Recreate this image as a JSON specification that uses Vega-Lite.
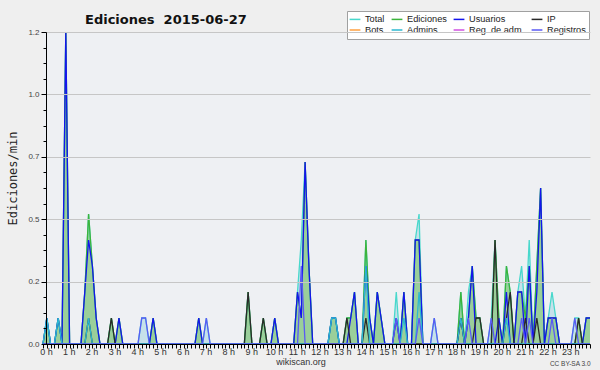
{
"$schema": "https://vega.github.io/schema/vega-lite/v6.json",
"width": 547, "height": 312, "autosize": "none",
"padding": {"left": 43, "top": 32, "right": 10, "bottom": 26},
"background": "#efefef",
"config": {"view": {"fill": "#eef0f3", "stroke": null}},
"title": {"text": "Ediciones\u00a0 2015-06-27", "anchor": "start", "frame": "group", "dx": 42, "dy": 16, "offset": -10, "baseline": "alphabetic", "font": "DejaVu Sans", "fontSize": 13, "fontWeight": "bold", "color": "#111"},
"data": {"values": [
{"min":0,"Total":0,"Ediciones":0,"Usuarios":0,"IP":0,"Admins":0,"Registros":0},
{"min":10,"Total":0.1,"Ediciones":0.1,"Usuarios":0.1,"IP":0,"Admins":0.1,"Registros":0},
{"min":20,"Total":0,"Ediciones":0,"Usuarios":0,"IP":0,"Admins":0,"Registros":0},
{"min":30,"Total":0,"Ediciones":0,"Usuarios":0,"IP":0,"Admins":0,"Registros":0},
{"min":40,"Total":0.1,"Ediciones":0.1,"Usuarios":0.1,"IP":0,"Admins":0.1,"Registros":0},
{"min":50,"Total":0,"Ediciones":0,"Usuarios":0,"IP":0,"Admins":0,"Registros":0},
{"min":60,"Total":1.2,"Ediciones":1.2,"Usuarios":1.2,"IP":0,"Admins":0,"Registros":0},
{"min":70,"Total":0,"Ediciones":0,"Usuarios":0,"IP":0,"Admins":0,"Registros":0},
{"min":80,"Total":0,"Ediciones":0,"Usuarios":0,"IP":0,"Admins":0,"Registros":0},
{"min":90,"Total":0,"Ediciones":0,"Usuarios":0,"IP":0,"Admins":0,"Registros":0},
{"min":100,"Total":0,"Ediciones":0,"Usuarios":0,"IP":0,"Admins":0,"Registros":0},
{"min":110,"Total":0.2,"Ediciones":0.2,"Usuarios":0.2,"IP":0,"Admins":0,"Registros":0},
{"min":120,"Total":0.5,"Ediciones":0.5,"Usuarios":0.4,"IP":0.1,"Admins":0.1,"Registros":0},
{"min":130,"Total":0.3,"Ediciones":0.3,"Usuarios":0.3,"IP":0,"Admins":0,"Registros":0},
{"min":140,"Total":0.1,"Ediciones":0.1,"Usuarios":0.1,"IP":0,"Admins":0,"Registros":0},
{"min":150,"Total":0,"Ediciones":0,"Usuarios":0,"IP":0,"Admins":0,"Registros":0},
{"min":160,"Total":0,"Ediciones":0,"Usuarios":0,"IP":0,"Admins":0,"Registros":0},
{"min":170,"Total":0,"Ediciones":0,"Usuarios":0,"IP":0,"Admins":0,"Registros":0},
{"min":180,"Total":0.1,"Ediciones":0.1,"Usuarios":0,"IP":0.1,"Admins":0,"Registros":0},
{"min":190,"Total":0,"Ediciones":0,"Usuarios":0,"IP":0,"Admins":0,"Registros":0},
{"min":200,"Total":0.1,"Ediciones":0.1,"Usuarios":0.1,"IP":0,"Admins":0,"Registros":0},
{"min":210,"Total":0,"Ediciones":0,"Usuarios":0,"IP":0,"Admins":0,"Registros":0},
{"min":220,"Total":0,"Ediciones":0,"Usuarios":0,"IP":0,"Admins":0,"Registros":0},
{"min":230,"Total":0,"Ediciones":0,"Usuarios":0,"IP":0,"Admins":0,"Registros":0},
{"min":240,"Total":0,"Ediciones":0,"Usuarios":0,"IP":0,"Admins":0,"Registros":0},
{"min":250,"Total":0,"Ediciones":0,"Usuarios":0,"IP":0,"Admins":0,"Registros":0},
{"min":260,"Total":0.1,"Ediciones":0,"Usuarios":0,"IP":0,"Admins":0,"Registros":0.1},
{"min":270,"Total":0.1,"Ediciones":0,"Usuarios":0,"IP":0,"Admins":0,"Registros":0.1},
{"min":280,"Total":0,"Ediciones":0,"Usuarios":0,"IP":0,"Admins":0,"Registros":0},
{"min":290,"Total":0.1,"Ediciones":0.1,"Usuarios":0.1,"IP":0,"Admins":0,"Registros":0},
{"min":300,"Total":0,"Ediciones":0,"Usuarios":0,"IP":0,"Admins":0,"Registros":0},
{"min":310,"Total":0,"Ediciones":0,"Usuarios":0,"IP":0,"Admins":0,"Registros":0},
{"min":320,"Total":0,"Ediciones":0,"Usuarios":0,"IP":0,"Admins":0,"Registros":0},
{"min":330,"Total":0,"Ediciones":0,"Usuarios":0,"IP":0,"Admins":0,"Registros":0},
{"min":340,"Total":0,"Ediciones":0,"Usuarios":0,"IP":0,"Admins":0,"Registros":0},
{"min":350,"Total":0,"Ediciones":0,"Usuarios":0,"IP":0,"Admins":0,"Registros":0},
{"min":360,"Total":0,"Ediciones":0,"Usuarios":0,"IP":0,"Admins":0,"Registros":0},
{"min":370,"Total":0,"Ediciones":0,"Usuarios":0,"IP":0,"Admins":0,"Registros":0},
{"min":380,"Total":0,"Ediciones":0,"Usuarios":0,"IP":0,"Admins":0,"Registros":0},
{"min":390,"Total":0,"Ediciones":0,"Usuarios":0,"IP":0,"Admins":0,"Registros":0},
{"min":400,"Total":0,"Ediciones":0,"Usuarios":0,"IP":0,"Admins":0,"Registros":0},
{"min":410,"Total":0.1,"Ediciones":0.1,"Usuarios":0.1,"IP":0,"Admins":0,"Registros":0},
{"min":420,"Total":0,"Ediciones":0,"Usuarios":0,"IP":0,"Admins":0,"Registros":0},
{"min":430,"Total":0.1,"Ediciones":0,"Usuarios":0,"IP":0,"Admins":0,"Registros":0.1},
{"min":440,"Total":0,"Ediciones":0,"Usuarios":0,"IP":0,"Admins":0,"Registros":0},
{"min":450,"Total":0,"Ediciones":0,"Usuarios":0,"IP":0,"Admins":0,"Registros":0},
{"min":460,"Total":0,"Ediciones":0,"Usuarios":0,"IP":0,"Admins":0,"Registros":0},
{"min":470,"Total":0,"Ediciones":0,"Usuarios":0,"IP":0,"Admins":0,"Registros":0},
{"min":480,"Total":0,"Ediciones":0,"Usuarios":0,"IP":0,"Admins":0,"Registros":0},
{"min":490,"Total":0,"Ediciones":0,"Usuarios":0,"IP":0,"Admins":0,"Registros":0},
{"min":500,"Total":0,"Ediciones":0,"Usuarios":0,"IP":0,"Admins":0,"Registros":0},
{"min":510,"Total":0,"Ediciones":0,"Usuarios":0,"IP":0,"Admins":0,"Registros":0},
{"min":520,"Total":0,"Ediciones":0,"Usuarios":0,"IP":0,"Admins":0,"Registros":0},
{"min":530,"Total":0,"Ediciones":0,"Usuarios":0,"IP":0,"Admins":0,"Registros":0},
{"min":540,"Total":0.2,"Ediciones":0.2,"Usuarios":0,"IP":0.2,"Admins":0,"Registros":0},
{"min":550,"Total":0,"Ediciones":0,"Usuarios":0,"IP":0,"Admins":0,"Registros":0},
{"min":560,"Total":0,"Ediciones":0,"Usuarios":0,"IP":0,"Admins":0,"Registros":0},
{"min":570,"Total":0,"Ediciones":0,"Usuarios":0,"IP":0,"Admins":0,"Registros":0},
{"min":580,"Total":0.1,"Ediciones":0.1,"Usuarios":0,"IP":0.1,"Admins":0,"Registros":0},
{"min":590,"Total":0,"Ediciones":0,"Usuarios":0,"IP":0,"Admins":0,"Registros":0},
{"min":600,"Total":0,"Ediciones":0,"Usuarios":0,"IP":0,"Admins":0,"Registros":0},
{"min":610,"Total":0.1,"Ediciones":0.1,"Usuarios":0.1,"IP":0,"Admins":0,"Registros":0},
{"min":620,"Total":0,"Ediciones":0,"Usuarios":0,"IP":0,"Admins":0,"Registros":0},
{"min":630,"Total":0,"Ediciones":0,"Usuarios":0,"IP":0,"Admins":0,"Registros":0},
{"min":640,"Total":0,"Ediciones":0,"Usuarios":0,"IP":0,"Admins":0,"Registros":0},
{"min":650,"Total":0,"Ediciones":0,"Usuarios":0,"IP":0,"Admins":0,"Registros":0},
{"min":660,"Total":0,"Ediciones":0,"Usuarios":0,"IP":0,"Admins":0,"Registros":0},
{"min":670,"Total":0.2,"Ediciones":0.2,"Usuarios":0.2,"IP":0,"Admins":0,"Registros":0},
{"min":680,"Total":0.4,"Ediciones":0.1,"Usuarios":0.1,"IP":0,"Admins":0,"Registros":0.3},
{"min":690,"Total":0.7,"Ediciones":0.7,"Usuarios":0.7,"IP":0,"Admins":0,"Registros":0},
{"min":700,"Total":0.3,"Ediciones":0.3,"Usuarios":0.3,"IP":0,"Admins":0,"Registros":0},
{"min":710,"Total":0,"Ediciones":0,"Usuarios":0,"IP":0,"Admins":0,"Registros":0},
{"min":720,"Total":0,"Ediciones":0,"Usuarios":0,"IP":0,"Admins":0,"Registros":0},
{"min":730,"Total":0,"Ediciones":0,"Usuarios":0,"IP":0,"Admins":0,"Registros":0},
{"min":740,"Total":0,"Ediciones":0,"Usuarios":0,"IP":0,"Admins":0,"Registros":0},
{"min":750,"Total":0,"Ediciones":0,"Usuarios":0,"IP":0,"Admins":0,"Registros":0},
{"min":760,"Total":0.1,"Ediciones":0.1,"Usuarios":0.1,"IP":0,"Admins":0.1,"Registros":0},
{"min":770,"Total":0.1,"Ediciones":0.1,"Usuarios":0.1,"IP":0,"Admins":0.1,"Registros":0},
{"min":780,"Total":0,"Ediciones":0,"Usuarios":0,"IP":0,"Admins":0,"Registros":0},
{"min":790,"Total":0,"Ediciones":0,"Usuarios":0,"IP":0,"Admins":0,"Registros":0},
{"min":800,"Total":0.1,"Ediciones":0.1,"Usuarios":0,"IP":0.1,"Admins":0,"Registros":0},
{"min":810,"Total":0.1,"Ediciones":0.1,"Usuarios":0.1,"IP":0,"Admins":0,"Registros":0},
{"min":820,"Total":0.2,"Ediciones":0.2,"Usuarios":0.2,"IP":0,"Admins":0,"Registros":0},
{"min":830,"Total":0,"Ediciones":0,"Usuarios":0,"IP":0,"Admins":0,"Registros":0},
{"min":840,"Total":0,"Ediciones":0,"Usuarios":0,"IP":0,"Admins":0,"Registros":0},
{"min":850,"Total":0.4,"Ediciones":0.4,"Usuarios":0.3,"IP":0.1,"Admins":0.3,"Registros":0},
{"min":860,"Total":0.1,"Ediciones":0.1,"Usuarios":0.1,"IP":0,"Admins":0,"Registros":0},
{"min":870,"Total":0,"Ediciones":0,"Usuarios":0,"IP":0,"Admins":0,"Registros":0},
{"min":880,"Total":0.2,"Ediciones":0.2,"Usuarios":0.2,"IP":0,"Admins":0,"Registros":0},
{"min":890,"Total":0.1,"Ediciones":0.1,"Usuarios":0.1,"IP":0,"Admins":0,"Registros":0},
{"min":900,"Total":0,"Ediciones":0,"Usuarios":0,"IP":0,"Admins":0,"Registros":0},
{"min":910,"Total":0,"Ediciones":0,"Usuarios":0,"IP":0,"Admins":0,"Registros":0},
{"min":920,"Total":0,"Ediciones":0,"Usuarios":0,"IP":0,"Admins":0,"Registros":0},
{"min":930,"Total":0.2,"Ediciones":0.1,"Usuarios":0.1,"IP":0,"Admins":0,"Registros":0.1},
{"min":940,"Total":0,"Ediciones":0,"Usuarios":0,"IP":0,"Admins":0,"Registros":0},
{"min":950,"Total":0.2,"Ediciones":0.2,"Usuarios":0.2,"IP":0,"Admins":0.1,"Registros":0},
{"min":960,"Total":0,"Ediciones":0,"Usuarios":0,"IP":0,"Admins":0,"Registros":0},
{"min":970,"Total":0,"Ediciones":0,"Usuarios":0,"IP":0,"Admins":0,"Registros":0},
{"min":980,"Total":0.4,"Ediciones":0.4,"Usuarios":0.4,"IP":0,"Admins":0,"Registros":0},
{"min":990,"Total":0.5,"Ediciones":0.4,"Usuarios":0.4,"IP":0,"Admins":0.2,"Registros":0.1},
{"min":1000,"Total":0,"Ediciones":0,"Usuarios":0,"IP":0,"Admins":0,"Registros":0},
{"min":1010,"Total":0,"Ediciones":0,"Usuarios":0,"IP":0,"Admins":0,"Registros":0},
{"min":1020,"Total":0,"Ediciones":0,"Usuarios":0,"IP":0,"Admins":0,"Registros":0},
{"min":1030,"Total":0.1,"Ediciones":0,"Usuarios":0,"IP":0,"Admins":0,"Registros":0.1},
{"min":1040,"Total":0,"Ediciones":0,"Usuarios":0,"IP":0,"Admins":0,"Registros":0},
{"min":1050,"Total":0,"Ediciones":0,"Usuarios":0,"IP":0,"Admins":0,"Registros":0},
{"min":1060,"Total":0,"Ediciones":0,"Usuarios":0,"IP":0,"Admins":0,"Registros":0},
{"min":1070,"Total":0,"Ediciones":0,"Usuarios":0,"IP":0,"Admins":0,"Registros":0},
{"min":1080,"Total":0,"Ediciones":0,"Usuarios":0,"IP":0,"Admins":0,"Registros":0},
{"min":1090,"Total":0,"Ediciones":0,"Usuarios":0,"IP":0,"Admins":0,"Registros":0},
{"min":1100,"Total":0.2,"Ediciones":0.2,"Usuarios":0.1,"IP":0.1,"Admins":0.1,"Registros":0},
{"min":1110,"Total":0,"Ediciones":0,"Usuarios":0,"IP":0,"Admins":0,"Registros":0},
{"min":1120,"Total":0.2,"Ediciones":0.1,"Usuarios":0.1,"IP":0,"Admins":0,"Registros":0.1},
{"min":1130,"Total":0.3,"Ediciones":0.3,"Usuarios":0.3,"IP":0,"Admins":0,"Registros":0},
{"min":1140,"Total":0.1,"Ediciones":0.1,"Usuarios":0,"IP":0.1,"Admins":0,"Registros":0},
{"min":1150,"Total":0.1,"Ediciones":0.1,"Usuarios":0,"IP":0.1,"Admins":0,"Registros":0},
{"min":1160,"Total":0,"Ediciones":0,"Usuarios":0,"IP":0,"Admins":0,"Registros":0},
{"min":1170,"Total":0,"Ediciones":0,"Usuarios":0,"IP":0,"Admins":0,"Registros":0},
{"min":1180,"Total":0.1,"Ediciones":0,"Usuarios":0,"IP":0,"Admins":0,"Registros":0.1},
{"min":1190,"Total":0.4,"Ediciones":0.4,"Usuarios":0,"IP":0.4,"Admins":0,"Registros":0},
{"min":1200,"Total":0.1,"Ediciones":0.1,"Usuarios":0.1,"IP":0,"Admins":0,"Registros":0},
{"min":1210,"Total":0,"Ediciones":0,"Usuarios":0,"IP":0,"Admins":0,"Registros":0},
{"min":1220,"Total":0.3,"Ediciones":0.3,"Usuarios":0.2,"IP":0.1,"Admins":0.1,"Registros":0},
{"min":1230,"Total":0.2,"Ediciones":0.2,"Usuarios":0,"IP":0.2,"Admins":0,"Registros":0},
{"min":1240,"Total":0,"Ediciones":0,"Usuarios":0,"IP":0,"Admins":0,"Registros":0},
{"min":1250,"Total":0.2,"Ediciones":0.2,"Usuarios":0.2,"IP":0,"Admins":0,"Registros":0},
{"min":1260,"Total":0.3,"Ediciones":0.2,"Usuarios":0.2,"IP":0,"Admins":0,"Registros":0.1},
{"min":1270,"Total":0.1,"Ediciones":0.1,"Usuarios":0,"IP":0.1,"Admins":0,"Registros":0},
{"min":1280,"Total":0.4,"Ediciones":0.3,"Usuarios":0.3,"IP":0,"Admins":0,"Registros":0.1},
{"min":1290,"Total":0,"Ediciones":0,"Usuarios":0,"IP":0,"Admins":0,"Registros":0},
{"min":1300,"Total":0.3,"Ediciones":0.3,"Usuarios":0.2,"IP":0.1,"Admins":0,"Registros":0},
{"min":1310,"Total":0.6,"Ediciones":0.6,"Usuarios":0.6,"IP":0,"Admins":0,"Registros":0},
{"min":1320,"Total":0,"Ediciones":0,"Usuarios":0,"IP":0,"Admins":0,"Registros":0},
{"min":1330,"Total":0.1,"Ediciones":0.1,"Usuarios":0.1,"IP":0,"Admins":0,"Registros":0},
{"min":1340,"Total":0.2,"Ediciones":0.1,"Usuarios":0.1,"IP":0,"Admins":0,"Registros":0.1},
{"min":1350,"Total":0.1,"Ediciones":0.1,"Usuarios":0.1,"IP":0,"Admins":0,"Registros":0},
{"min":1360,"Total":0,"Ediciones":0,"Usuarios":0,"IP":0,"Admins":0,"Registros":0},
{"min":1370,"Total":0,"Ediciones":0,"Usuarios":0,"IP":0,"Admins":0,"Registros":0},
{"min":1380,"Total":0,"Ediciones":0,"Usuarios":0,"IP":0,"Admins":0,"Registros":0},
{"min":1390,"Total":0,"Ediciones":0,"Usuarios":0,"IP":0,"Admins":0,"Registros":0},
{"min":1400,"Total":0.1,"Ediciones":0,"Usuarios":0,"IP":0,"Admins":0,"Registros":0.1},
{"min":1410,"Total":0.1,"Ediciones":0.1,"Usuarios":0,"IP":0.1,"Admins":0,"Registros":0},
{"min":1420,"Total":0,"Ediciones":0,"Usuarios":0,"IP":0,"Admins":0,"Registros":0},
{"min":1430,"Total":0.1,"Ediciones":0.1,"Usuarios":0.1,"IP":0,"Admins":0,"Registros":0},
{"min":1440,"Total":0.1,"Ediciones":0.1,"Usuarios":0.1,"IP":0,"Admins":0,"Registros":0}
]},
"transform": [{"fold": ["Total","Ediciones","Usuarios","IP","Admins","Registros"], "as": ["serie","val"]}],
"encoding": {
  "x": {"field": "min", "type": "quantitative", "scale": {"domain": [0,1440], "nice": false, "zero": false},
    "axis": {"values": [0,10,20,30,40,50,60,70,80,90,100,110,120,130,140,150,160,170,180,190,200,210,220,230,240,250,260,270,280,290,300,310,320,330,340,350,360,370,380,390,400,410,420,430,440,450,460,470,480,490,500,510,520,530,540,550,560,570,580,590,600,610,620,630,640,650,660,670,680,690,700,710,720,730,740,750,760,770,780,790,800,810,820,830,840,850,860,870,880,890,900,910,920,930,940,950,960,970,980,990,1000,1010,1020,1030,1040,1050,1060,1070,1080,1090,1100,1110,1120,1130,1140,1150,1160,1170,1180,1190,1200,1210,1220,1230,1240,1250,1260,1270,1280,1290,1300,1310,1320,1330,1340,1350,1360,1370,1380,1390,1400,1410,1420,1430,1440],
      "labelExpr": "datum.value % 60 == 0 && datum.value < 1440 ? (datum.value/60) + ' h' : ''",
      "labelOverlap": false, "labelFlush": false, "labelBound": false,
      "labelFont": "Liberation Sans", "labelFontSize": 9, "labelColor": "#333", "labelPadding": -1, "labelOffset": 3,
      "tickSize": 4, "tickColor": "#000", "domainColor": "#000", "grid": false, "zindex": 1,
      "title": "wikiscan.org", "titleFont": "Liberation Sans", "titleFontSize": 9, "titleFontWeight": "normal", "titleColor": "#333",
      "titleX": 257.5, "titleY": 20.5, "titleBaseline": "alphabetic", "titleAlign": "center"}},
  "y": {"field": "val", "type": "quantitative", "scale": {"domain": [0,1.2], "nice": false, "zero": true},
    "axis": {"values": [0,0.06,0.12,0.18,0.24,0.3,0.36,0.42,0.48,0.54,0.6,0.66,0.72,0.78,0.84,0.9,0.96,1.02,1.08,1.14,1.2],
      "labelExpr": "round(datum.value*100) % 24 == 0 ? format(datum.value, '.1f') : ''",
      "tickSize": {"condition": {"test": "round(datum.value*100) % 24 == 0", "value": 5}, "value": 3},
      "grid": true, "gridColor": "#c6c6c6", "gridOpacity": {"condition": {"test": "round(datum.value*100) % 24 == 0", "value": 1}, "value": 0},
      "offset": -3, "zindex": 1,
      "labelFont": "Liberation Sans", "labelFontSize": 8, "labelColor": "#444", "labelPadding": 2, "labelOverlap": false,
      "tickColor": "#000", "domainColor": "#000",
      "title": "Ediciones/min", "titleFont": "DejaVu Sans Mono", "titleFontSize": 12, "titleFontWeight": "normal", "titleColor": "#222",
      "titleX": -30, "titleY": 146, "titleBaseline": "alphabetic", "titleAlign": "center", "titleAngle": 270}}
},
"layer": [
  {"layer": [
    {"transform": [{"filter": "datum.serie == 'Total'"}], "mark": {"type": "area", "color": "#c6e1ea", "opacity": 1}, "encoding": {}},
    {"transform": [{"filter": "datum.serie == 'Ediciones'"}], "mark": {"type": "area", "color": "#9acf9a", "opacity": 1}, "encoding": {}},
    {"mark": {"type": "line", "strokeWidth": 1.3},
     "encoding": {"color": {"field": "serie", "type": "nominal",
       "scale": {"domain": ["Total","Ediciones","Usuarios","IP","Bots","Admins","RegAdm","Registros"],
                 "range": ["#48d8cc","#3cb43c","#1414ee","#2a2a2a","#ffa040","#2cb8d0","#d050e0","#5a5af5"]},
       "legend": {"title": null, "orient": "none", "legendX": 304, "legendY": -21, "direction": "horizontal", "columns": 4,
         "symbolType": "M-1.35,0H1.35", "symbolSize": 64, "symbolStrokeWidth": 1.5,
         "labelFont": "Liberation Sans", "labelFontSize": 9.2, "labelColor": "#222", "labelOffset": 5,
         "columnPadding": 3, "rowPadding": 0, "padding": 3, "fillColor": "#ffffff", "strokeColor": "#a0a0a0",
         "labelExpr": "datum.label == 'Admins' ? 'Admins.' : datum.label == 'RegAdm' ? 'Reg. de adm.' : datum.label"}}}}
  ]},
  {"transform": [{"filter": "datum.min == 0 && datum.serie == 'Total'"}],
   "mark": {"type": "point", "opacity": 0},
   "encoding": {"x": {"field": "min", "type": "quantitative",
     "axis": {"orient": "bottom", "labels": false, "ticks": false, "domain": false, "grid": false,
       "title": "CC BY-SA 3.0", "titleFont": "Liberation Sans", "titleFontSize": 6.5, "titleFontWeight": "normal", "titleColor": "#444",
       "titleX": 547, "titleY": 21, "titleBaseline": "alphabetic", "titleAlign": "right"}}}}
],
"resolve": {"axis": {"x": "independent"}}
}
